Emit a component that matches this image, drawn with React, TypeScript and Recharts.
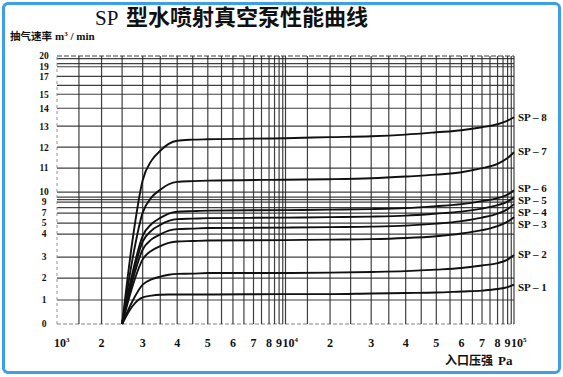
import React from 'react';
import { LineChart, Line, XAxis, YAxis, ReferenceLine } from 'recharts';

// ---------- data (inlet pressure in Pa, pumping speed in m³/min) ----------
const pressurePa = [2500, 2750, 3000, 3250, 3500, 3750, 4000, 4500, 5000, 10000, 20000, 30000, 40000, 50000, 60000, 70000, 80000, 90000, 100000];

const sp1 = [0, 0.74, 1.12, 1.2, 1.24, 1.25, 1.25, 1.25, 1.25, 1.27, 1.27, 1.3, 1.32, 1.34, 1.39, 1.43, 1.5, 1.59, 1.7];
const sp2 = [0, 0.95, 1.7, 1.94, 2.07, 2.16, 2.2, 2.21, 2.24, 2.24, 2.26, 2.29, 2.33, 2.4, 2.48, 2.6, 2.71, 2.88, 3.09];
const sp3 = [0, 1.61, 2.89, 3.28, 3.48, 3.62, 3.68, 3.7, 3.72, 3.74, 3.76, 3.78, 3.83, 3.91, 4.05, 4.36, 4.73, 5.3, 6.2];
const sp4 = [0, 1.86, 3.33, 3.77, 3.99, 4.31, 4.45, 4.5, 4.55, 4.59, 4.64, 4.68, 4.77, 4.95, 5.4, 6.1, 6.9, 7.73, 8.64];
const sp5 = [0, 2.07, 3.67, 4.32, 4.84, 5.44, 5.8, 5.9, 6.0, 6.1, 6.2, 6.3, 6.5, 6.9, 7.27, 7.82, 8.45, 9.05, 9.5];
const sp6 = [0, 2.23, 3.92, 4.92, 6.04, 6.9, 7.25, 7.36, 7.45, 7.55, 7.64, 7.73, 7.91, 8.27, 8.64, 9.1, 9.4, 9.75, 10.08];
const sp7 = [0, 2.88, 7.09, 9.47, 10.1, 10.33, 10.43, 10.46, 10.48, 10.52, 10.54, 10.58, 10.65, 10.73, 10.83, 11.0, 11.21, 11.48, 11.76];
const sp8 = [0, 3.7, 10.5, 11.36, 11.83, 12.16, 12.31, 12.36, 12.38, 12.43, 12.48, 12.52, 12.6, 12.71, 12.81, 12.95, 13.11, 13.31, 13.5];

const seriesValues = [sp1, sp2, sp3, sp4, sp5, sp6, sp7, sp8];
const seriesNames = ['SP – 1', 'SP – 2', 'SP – 3', 'SP – 4', 'SP – 5', 'SP – 6', 'SP – 7', 'SP – 8'];
const seriesLabelDy = [2, -1, 7, 8, 3, -2, -1, 0];

// ---------- printed axis calibration (the printed scales are non-uniform) ----------
const xMantissa = [1, 1.5, 2, 2.5, 3, 3.5, 4, 4.5, 5, 5.5, 6, 6.5, 7, 7.5, 8, 8.5, 9, 9.5, 10];
const xMantissaPos = [0, 0.096, 0.195, 0.285, 0.375, 0.452, 0.526, 0.594, 0.66, 0.72, 0.77, 0.818, 0.86, 0.895, 0.928, 0.952, 0.972, 0.988, 1];

const xTickPa = [1000, 2000, 3000, 4000, 5000, 6000, 7000, 8000, 9000, 10000, 20000, 30000, 40000, 50000, 60000, 70000, 80000, 90000, 100000];
const xTickLabels = ['10|3', '2', '3', '4', '5', '6', '7', '8', '9', '10|4', '2', '3', '4', '5', '6', '7', '8', '9', '10|5'];
const xGridPa = [
  1000, 1500, 2000, 2500, 3000, 3500, 4000, 4500, 5000, 5500, 6000, 6500, 7000, 7500, 8000, 8500, 9000, 9500, 10000,
  15000, 20000, 25000, 30000, 35000, 40000, 45000, 50000, 55000, 60000, 65000, 70000, 75000, 80000, 85000, 90000, 95000, 100000,
];

const yScaleValues = [0, 1, 2, 3, 4, 5, 7, 9, 10, 11, 12, 13, 14, 15, 17, 19, 20];
const yScalePos = [0, 0.0895, 0.1714, 0.2497, 0.3354, 0.3764, 0.4137, 0.4547, 0.492, 0.5814, 0.6597, 0.738, 0.8051, 0.8572, 0.9243, 0.9598, 1];
const yTickValues = [0, 1, 2, 3, 4, 5, 7, 9, 10, 11, 12, 13, 14, 15, 17, 19, 20];
const yGridValues = [0, 1, 2, 3, 4, 5, 7, 8, 9, 9.25, 9.5, 10, 11, 12, 13, 14, 15, 16, 17, 19, 19.3, 19.75, 20];

function interp(v: number, xs: number[], ys: number[]) {
  if (v <= xs[0]) return ys[0];
  for (let i = 1; i < xs.length; i++) {
    if (v <= xs[i]) {
      const t = (v - xs[i - 1]) / (xs[i] - xs[i - 1]);
      return ys[i - 1] + t * (ys[i] - ys[i - 1]);
    }
  }
  return ys[ys.length - 1];
}
function xToPos(pa: number) {
  const d = pa >= 100000 ? 2 : pa >= 10000 ? 1 : 0;
  const m = pa / Math.pow(10, 3 + d);
  return d + interp(m, xMantissa, xMantissaPos);
}
function yToPos(v: number) {
  return interp(v, yScaleValues, yScalePos);
}

const SERIF = '"Liberation Serif", "Times New Roman", serif';
const CJK = '"Noto Sans CJK SC", sans-serif';

const XTick = (props: any) => {
  const { x, y, index } = props;
  const raw = xTickLabels[index] ?? '';
  if (raw.includes('|')) {
    const [base, exp] = raw.split('|');
    return (
      <text x={x - 3} y={y + 23} textAnchor="start" fontFamily={SERIF} fontSize={12} fontWeight={700} fill="#111">
        {base}
        <tspan dy={-5} fontSize={7}>{exp}</tspan>
      </text>
    );
  }
  return (
    <text x={x} y={y + 23} textAnchor="middle" fontFamily={SERIF} fontSize={12} fontWeight={700} fill="#111">
      {raw}
    </text>
  );
};

const YTick = (props: any) => {
  const { x, y, index } = props;
  return (
    <text x={x - 13} y={y + 3.3} textAnchor="middle" fontFamily={SERIF} fontSize={9.5} fontWeight={700} fill="#111">
      {String(yTickValues[index] ?? '')}
    </text>
  );
};

export default function App() {
  const lastIdx = pressurePa.length - 1;
  return (
    <div style={{ position: 'fixed', left: 0, top: 0, width: 563, height: 377, background: '#fff', overflow: 'hidden' }}>
      <div style={{ position: 'absolute', left: 0, top: 0 }}>
        <LineChart width={563} height={377} margin={{ top: 56, right: 49, bottom: 0, left: 0 }}>
          <XAxis
            dataKey="x"
            type="number"
            domain={[0, 2]}
            ticks={xTickPa.map(xToPos)}
            tick={<XTick />}
            tickLine={false}
            axisLine={false}
            tickSize={0}
            tickMargin={0}
            height={53}
            interval={0}
          />
          <YAxis
            type="number"
            domain={[0, 1]}
            ticks={yTickValues.map(yToPos)}
            tick={<YTick />}
            tickLine={false}
            axisLine={false}
            tickSize={0}
            tickMargin={0}
            width={57}
            interval={0}
          />
          {yGridValues.map((v) => {
            const edgeBottom = v === 0;
            const edgeTop = v === 20;
            return (
              <ReferenceLine
                key={'h' + v}
                y={yToPos(v)}
                stroke={edgeBottom ? '#777' : '#2b2b2b'}
                strokeWidth={edgeBottom ? 1 : 1.2}
                strokeDasharray={edgeBottom ? '4 2' : edgeTop ? '5 2' : undefined}
                strokeOpacity={0.9}
              />
            );
          })}
          {xGridPa.map((p) => {
            const edgeLeft = p === 1000;
            return (
              <ReferenceLine
                key={'v' + p}
                x={xToPos(p)}
                stroke={edgeLeft ? '#888' : '#2b2b2b'}
                strokeWidth={edgeLeft ? 1 : 1.2}
                strokeDasharray={edgeLeft ? '3 3' : undefined}
                strokeOpacity={0.9}
              />
            );
          })}
          {seriesValues.map((vals, si) => (
            <Line
              key={seriesNames[si]}
              data={pressurePa.map((p, i) => ({ x: xToPos(p), y: yToPos(vals[i]) }))}
              dataKey="y"
              type="monotone"
              stroke="#111"
              strokeWidth={1.9}
              isAnimationActive={false}
              activeDot={false}
              dot={(dp: any) => {
                if (dp.index !== lastIdx) return <g key={'d' + si + '-' + dp.index} />;
                return (
                  <text
                    key={'d' + si + '-' + dp.index}
                    x={dp.cx + 4}
                    y={dp.cy + seriesLabelDy[si] + 4}
                    fontFamily={SERIF}
                    fontSize={11}
                    fontWeight={700}
                    fill="#111"
                  >
                    {seriesNames[si]}
                  </text>
                );
              }}
            />
          ))}
        </LineChart>
      </div>
      <svg width={563} height={377} style={{ position: 'absolute', left: 0, top: 0, pointerEvents: 'none' }}>
        <text x={95} y={25} fontFamily={SERIF} fontSize={21} fill="#111">SP</text>
        <text x={126} y={25} fontFamily={CJK} fontSize={22} fontWeight={700} fill="#111">型水喷射真空泵性能曲线</text>
        <text x={10} y={40} fontFamily={CJK} fontSize={10.5} fontWeight={700} fill="#111">抽气速率</text>
        <text x={55} y={40} fontFamily={SERIF} fontSize={11} fontWeight={700} fill="#111">
          m<tspan dy={-4} fontSize={7}>3</tspan><tspan dy={4}> / min</tspan>
        </text>
        <text x={445} y={365} fontFamily={CJK} fontSize={12} fontWeight={700} fill="#111">入口压强</text>
        <text x={498} y={365} fontFamily={SERIF} fontSize={13} fontWeight={700} fill="#111">Pa</text>
      </svg>
      <div
        style={{
          position: 'absolute',
          left: 2,
          top: 2,
          width: 559,
          height: 372,
          boxSizing: 'border-box',
          border: '3px solid #3d9fe8',
          borderRadius: 6,
          pointerEvents: 'none',
        }}
      />
    </div>
  );
}
